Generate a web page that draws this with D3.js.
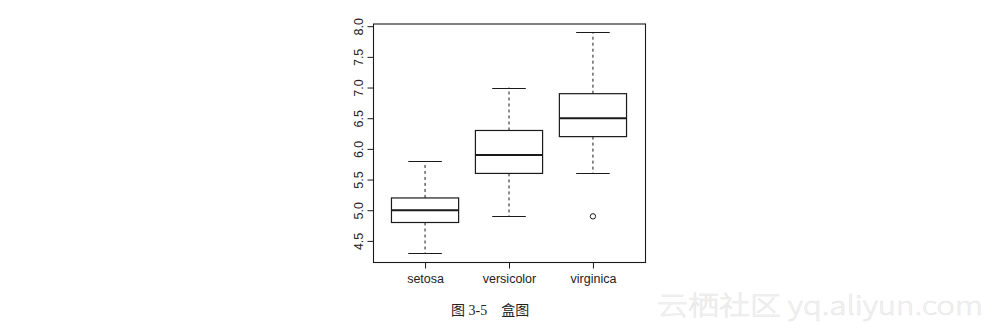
<!DOCTYPE html>
<html>
<head>
<meta charset="utf-8">
<script src="https://cdn.jsdelivr.net/npm/d3@7"></script>
<style>
  html, body { margin: 0; padding: 0; background: #fff; }
  svg { display: block; }
</style>
</head>
<body>
<svg id="chart" width="994" height="335"></svg>
<script>
// Sepal length by species (five-number summaries + outliers)
const species   = ["setosa", "versicolor", "virginica"];
const lowWhisk  = [4.3, 4.9, 5.6];
const lowerQ    = [4.8, 5.6, 6.2];
const medians   = [5.0, 5.9, 6.5];
const upperQ    = [5.2, 6.3, 6.9];
const highWhisk = [5.8, 7.0, 7.9];
const outliers  = [[], [], [4.9]];
const yTicks    = [4.5, 5.0, 5.5, 6.0, 6.5, 7.0, 7.5, 8.0];
const caption   = "图 3-5\u3000盒图";
const watermark = "云栖社区 yq.aliyun.com";

const svg = d3.select("#chart");
const ink = "#1a1a1a";

const plot = { left: 373, right: 645, top: 23.5, bottom: 262 };

// R-style axis extents: 4% padding around data / category range
const allVals = lowWhisk.concat(highWhisk, outliers.flat());
const yMin = d3.min(allVals), yMax = d3.max(allVals);
const yPad = (yMax - yMin) * 0.04;
const y = d3.scaleLinear()
  .domain([yMin - yPad, yMax + yPad])
  .range([plot.bottom, plot.top]);

const xPad = species.length * 0.04;
const x = d3.scaleLinear()
  .domain([0.5 - xPad, species.length + 0.5 + xPad])
  .range([plot.left, plot.right]);

const boxW = x(1.4) - x(1);   // half box width (0.4 units)
const capW = x(1.2) - x(1);   // half staple width (0.2 units)

const g = svg.append("g");

species.forEach((s, i) => {
  const cx = x(i + 1);
  // dashed whiskers
  g.append("line")
    .attr("x1", cx).attr("x2", cx)
    .attr("y1", y(upperQ[i])).attr("y2", y(highWhisk[i]))
    .attr("stroke", ink).attr("stroke-width", 1).attr("stroke-dasharray", "3,3");
  g.append("line")
    .attr("x1", cx).attr("x2", cx)
    .attr("y1", y(lowerQ[i])).attr("y2", y(lowWhisk[i]))
    .attr("stroke", ink).attr("stroke-width", 1).attr("stroke-dasharray", "3,3");
  // staples
  [lowWhisk[i], highWhisk[i]].forEach(v => {
    g.append("line")
      .attr("x1", cx - capW).attr("x2", cx + capW)
      .attr("y1", Math.round(y(v)) + 0.5).attr("y2", Math.round(y(v)) + 0.5)
      .attr("stroke", ink).attr("stroke-width", 1.2);
  });
  // box
  g.append("rect")
    .attr("x", cx - boxW).attr("width", 2 * boxW)
    .attr("y", y(upperQ[i])).attr("height", y(lowerQ[i]) - y(upperQ[i]))
    .attr("fill", "none").attr("stroke", ink).attr("stroke-width", 1.2);
  // median
  g.append("line")
    .attr("x1", cx - boxW).attr("x2", cx + boxW)
    .attr("y1", y(medians[i])).attr("y2", y(medians[i]))
    .attr("stroke", ink).attr("stroke-width", 2.1);
  // outliers
  outliers[i].forEach(v => {
    g.append("circle")
      .attr("cx", cx).attr("cy", y(v)).attr("r", 2.7)
      .attr("fill", "none").attr("stroke", ink).attr("stroke-width", 1);
  });
});

// plot frame
svg.append("rect")
  .attr("x", plot.left + 0.5).attr("y", plot.top + 0.5)
  .attr("width", plot.right - plot.left).attr("height", plot.bottom - plot.top)
  .attr("fill", "none").attr("stroke", ink).attr("stroke-width", 1.1);

// y axis with labels parallel to the axis
const yAxis = svg.append("g")
  .attr("transform", `translate(${plot.left + 0.5},0)`)
  .call(d3.axisLeft(y).tickValues(yTicks).tickFormat(d3.format(".1f")).tickSize(6).tickPadding(0));
yAxis.select(".domain").remove();
yAxis.selectAll(".tick line").attr("stroke", ink);
yAxis.selectAll(".tick text")
  .attr("x", null).attr("dy", null)
  .attr("text-anchor", "middle")
  .attr("transform", "translate(-11,0) rotate(-90)")
  .attr("fill", "#222")
  .style("font-family", "'Liberation Sans', Arial, sans-serif")
  .style("font-size", "12.5px");

// x axis with category names
const xAxis = svg.append("g")
  .attr("transform", `translate(0,${plot.bottom + 0.5})`)
  .call(d3.axisBottom(x).tickValues(species.map((_, i) => i + 1))
    .tickFormat((d) => species[d - 1]).tickSize(6).tickPadding(0));
xAxis.select(".domain").remove();
xAxis.selectAll(".tick line").attr("stroke", ink);
xAxis.selectAll(".tick text")
  .attr("y", 20.5).attr("dy", null)
  .attr("fill", "#222")
  .style("font-family", "'Liberation Sans', Arial, sans-serif")
  .style("font-size", "12.5px");

// figure caption
svg.append("text")
  .attr("x", 451).attr("y", 315)
  .attr("fill", "#222")
  .style("font-family", "'Liberation Serif', 'Noto Sans CJK SC', serif")
  .style("font-size", "14px")
  .text(caption);

// site watermark
svg.append("text")
  .attr("x", 657).attr("y", 315)
  .attr("fill", "#f6f6f6").attr("stroke", "#e4e4e4").attr("stroke-width", 0.5)
  .style("font-family", "'Noto Sans CJK SC', sans-serif")
  .style("font-size", "26px")
  .style("font-weight", 300)
  .attr("textLength", 326).attr("lengthAdjust", "spacingAndGlyphs")
  .text(watermark);
</script>
</body>
</html>
